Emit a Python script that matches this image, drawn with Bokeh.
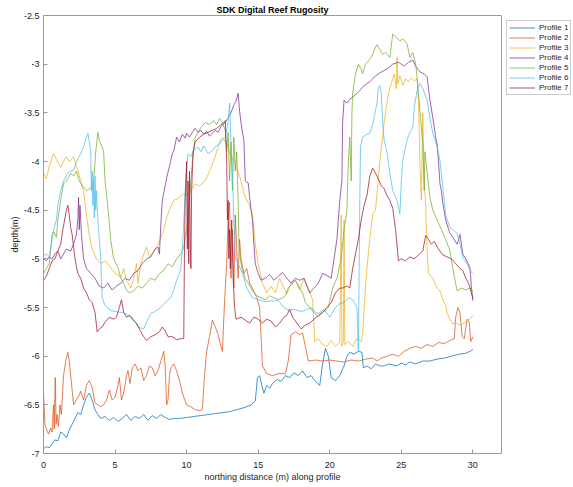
from bokeh.plotting import figure
from bokeh.models import Legend, LegendItem, FixedTicker, Range1d
from bokeh.embed import file_html
from bokeh.resources import INLINE

# ---------------- data ----------------
title_text = "SDK Digital Reef Rugosity"
x_label = "northing distance (m) along profile"
y_label = "depth(m)"
profile_names = ["Profile 1", "Profile 2", "Profile 3", "Profile 4", "Profile 5", "Profile 6", "Profile 7"]
x_ticks = [0, 5, 10, 15, 20, 25, 30]
y_ticks = [-7, -6.5, -6, -5.5, -5, -4.5, -4, -3.5, -3, -2.5]
y_tick_labels = ["-7", "-6.5", "-6", "-5.5", "-5", "-4.5", "-4", "-3.5", "-3", "-2.5"]

profile_1 = [(0.0,-6.95),(0.2,-6.93),(0.4,-6.94),(0.6,-6.9),(0.8,-6.86),(1.0,-6.87),(1.2,-6.78),(1.4,-6.8),
    (1.6,-6.84),(1.8,-6.76),(2.0,-6.7),(2.2,-6.64),(2.4,-6.58),(2.6,-6.6),(2.8,-6.5),(3.0,-6.42),(3.2,-6.38),
    (3.4,-6.45),(3.6,-6.55),(3.8,-6.6),(4.0,-6.64),(4.3,-6.62),(4.6,-6.66),(4.9,-6.63),(5.2,-6.67),(5.5,-6.64),
    (5.8,-6.6),(6.1,-6.66),(6.4,-6.62),(6.7,-6.64),(7.0,-6.6),(7.3,-6.66),(7.6,-6.61),(7.9,-6.64),(8.2,-6.6),
    (8.5,-6.63),(8.8,-6.65),(9.1,-6.64),(9.5,-6.64),(10.0,-6.63),(10.5,-6.62),(11.0,-6.61),(11.5,-6.6),(12.0,-6.59),
    (12.5,-6.58),(13.0,-6.57),(13.5,-6.55),(14.0,-6.53),(14.5,-6.5),(14.8,-6.46),(14.95,-6.22),(15.1,-6.2),
    (15.25,-6.3),(15.4,-6.38),(15.6,-6.3),(15.8,-6.33),(16.0,-6.28),(16.3,-6.24),(16.6,-6.26),(16.9,-6.2),
    (17.2,-6.22),(17.5,-6.17),(17.8,-6.2),(18.1,-6.15),(18.4,-6.22),(18.7,-6.2),(19.0,-6.26),(19.3,-6.3),
    (19.5,-6.08),(19.7,-5.92),(19.9,-6.0),(20.1,-6.22),(20.4,-6.25),(20.7,-6.2),(21.0,-6.1),(21.2,-6.0),
    (21.4,-5.96),(21.7,-5.98),(22.0,-5.95),(22.25,-5.96),(22.35,-6.12),(22.6,-6.1),(22.9,-6.13),(23.2,-6.08),
    (23.5,-6.1),(23.8,-6.1),(24.1,-6.08),(24.4,-6.09),(24.7,-6.1),(25.0,-6.07),(25.3,-6.09),(25.6,-6.06),
    (26.0,-6.08),(26.5,-6.05),(27.0,-6.05),(27.5,-6.03),(28.0,-6.02),(28.5,-6.0),(29.0,-5.98),(29.5,-5.97),
    (29.8,-5.95),(30.0,-5.93)]

profile_2 = [(0.0,-6.38),(0.1,-6.7),(0.2,-6.75),(0.35,-6.8),(0.5,-6.74),(0.6,-6.78),(0.7,-6.5),(0.75,-6.75),
    (0.82,-6.22),(0.88,-6.7),(0.95,-6.6),(1.05,-6.72),(1.15,-6.5),(1.25,-6.6),(1.4,-6.2),(1.55,-6.05),(1.7,-5.96),
    (1.8,-6.05),(1.9,-6.2),(2.0,-6.35),(2.1,-6.5),(2.3,-6.45),(2.5,-6.4),(2.6,-6.36),(2.8,-6.45),(3.0,-6.3),
    (3.2,-6.25),(3.4,-6.32),(3.6,-6.48),(3.8,-6.5),(4.0,-6.52),(4.2,-6.5),(4.4,-6.45),(4.6,-6.35),(4.8,-6.45),
    (5.0,-6.42),(5.2,-6.3),(5.3,-6.22),(5.45,-6.45),(5.6,-6.38),(5.8,-6.2),(5.9,-6.15),(6.05,-6.28),(6.2,-6.12),
    (6.4,-6.08),(6.6,-6.15),(6.8,-6.12),(7.0,-6.25),(7.2,-6.2),(7.4,-6.1),(7.6,-6.12),(7.8,-6.2),(8.0,-6.15),
    (8.2,-6.05),(8.4,-5.95),(8.5,-6.1),(8.6,-6.5),(8.7,-6.45),(8.8,-6.2),(8.9,-6.12),(9.1,-6.08),(9.3,-6.15),
    (9.5,-6.25),(9.7,-6.38),(10.0,-6.5),(10.3,-6.52),(10.6,-6.55),(10.9,-6.56),(11.1,-6.55),(11.25,-6.2),
    (11.4,-5.95),(11.6,-5.8),(11.8,-5.63),(12.0,-5.7),(12.2,-5.78),(12.4,-5.9),(12.5,-5.95),(12.6,-5.6),
    (12.7,-5.3),(12.8,-5.05),(12.9,-4.6),(13.0,-4.42),(13.1,-5.2),(13.2,-4.7),(13.3,-5.3),(13.4,-4.55),
    (13.5,-4.9),(13.6,-5.2),(13.7,-4.8),(13.8,-5.0),(14.0,-5.15),(14.2,-5.1),(14.4,-5.25),(14.6,-5.3),
    (14.9,-5.4),(15.1,-5.5),(15.3,-6.1),(15.6,-6.18),(16.0,-6.2),(16.4,-6.18),(16.9,-6.18),(17.1,-6.05),
    (17.3,-5.78),(17.6,-5.75),(17.9,-5.78),(18.1,-5.76),(18.3,-5.9),(18.5,-6.05),(19.0,-6.04),(19.5,-6.05),
    (20.0,-6.04),(20.5,-6.05),(21.0,-6.06),(21.5,-6.04),(22.0,-6.05),(22.5,-6.03),(23.0,-6.02),(23.3,-6.05),
    (23.6,-6.02),(24.0,-6.0),(24.4,-5.98),(24.8,-6.0),(25.2,-5.95),(25.6,-5.92),(26.0,-5.9),(26.4,-5.92),
    (26.8,-5.88),(27.2,-5.9),(27.6,-5.86),(28.0,-5.87),(28.4,-5.84),(28.7,-5.82),(28.8,-5.6),(28.95,-5.5),
    (29.1,-5.55),(29.25,-5.8),(29.4,-5.82),(29.6,-5.62),(29.75,-5.65),(29.85,-5.85),(30.0,-5.8)]

profile_3 = [(0.0,-4.12),(0.2,-4.18),(0.4,-4.05),(0.7,-3.92),(0.9,-3.98),(1.2,-4.06),(1.4,-4.0),(1.6,-3.95),
    (1.8,-4.0),(2.0,-3.97),(2.1,-3.95),(2.3,-4.05),(2.4,-4.09),(2.6,-4.2),(2.8,-4.3),(3.0,-4.55),(3.2,-4.75),
    (3.4,-4.9),(3.7,-5.0),(4.0,-5.05),(4.3,-5.02),(4.7,-5.09),(5.0,-5.15),(5.4,-5.19),(5.6,-5.1),(5.8,-5.22),
    (6.1,-5.3),(6.3,-5.2),(6.5,-5.05),(6.6,-5.25),(6.8,-5.05),(7.0,-4.95),(7.2,-4.88),(7.4,-4.98),(7.7,-4.92),
    (8.0,-4.85),(8.2,-4.78),(8.4,-4.7),(8.6,-4.58),(8.8,-4.5),(9.1,-4.4),(9.4,-4.38),(9.8,-4.33),(10.0,-4.35),
    (10.3,-4.3),(10.6,-4.23),(10.9,-4.25),(11.3,-4.2),(11.6,-4.1),(11.8,-4.03),(12.1,-3.9),(12.3,-3.8),
    (12.5,-3.75),(12.7,-3.8),(12.9,-3.85),(13.1,-3.95),(13.4,-4.02),(13.7,-4.15),(14.1,-4.37),(14.4,-4.45),
    (14.6,-4.54),(14.8,-4.85),(15.0,-5.05),(15.3,-5.25),(15.6,-5.35),(15.9,-5.28),(16.2,-5.35),(16.5,-5.2),
    (16.8,-5.3),(17.0,-5.36),(17.3,-5.25),(17.6,-5.22),(17.9,-5.32),(18.2,-5.2),(18.5,-5.3),(18.8,-5.42),
    (18.95,-5.85),(19.2,-5.82),(19.5,-5.88),(19.8,-5.9),(20.1,-5.84),(20.4,-5.9),(20.7,-5.86),(20.8,-4.55),
    (20.85,-5.9),(20.95,-5.85),(21.0,-4.6),(21.05,-5.88),(21.3,-5.85),(21.6,-5.9),(21.9,-5.82),(22.2,-5.85),
    (22.3,-5.77),(22.45,-5.4),(22.6,-5.09),(22.8,-4.8),(23.0,-4.54),(23.2,-4.5),(23.5,-4.0),(23.8,-3.6),
    (24.1,-3.3),(24.3,-3.2),(24.5,-3.1),(24.65,-3.25),(24.7,-2.93),(24.75,-3.2),(24.9,-3.12),(25.1,-3.22),
    (25.3,-3.15),(25.5,-3.18),(25.7,-3.14),(25.9,-3.17),(26.1,-3.15),(26.2,-3.37),(26.3,-4.0),(26.4,-4.4),
    (26.5,-3.5),(26.6,-4.2),(26.7,-4.45),(26.8,-4.9),(26.9,-5.15),(27.2,-5.2),(27.5,-5.3),(27.7,-5.33),
    (27.9,-5.42),(28.1,-5.48),(28.2,-5.56),(28.4,-5.62),(28.6,-5.67),(28.8,-5.66),(29.1,-5.68),(29.4,-5.66),
    (29.7,-5.63),(30.0,-5.58)]

profile_4 = [(0.0,-5.0),(0.2,-5.02),(0.4,-4.98),(0.6,-5.0),(0.8,-4.95),(1.0,-4.92),(1.2,-5.0),(1.4,-4.95),
    (1.6,-4.9),(1.9,-4.92),(2.1,-4.85),(2.3,-4.75),(2.4,-4.6),(2.45,-4.37),(2.5,-4.7),(2.55,-4.45),(2.65,-4.75),
    (2.8,-5.0),(3.0,-5.1),(3.3,-5.15),(3.6,-5.2),(3.9,-5.28),(4.2,-5.3),(4.5,-5.25),(4.8,-5.32),(5.1,-5.28),
    (5.4,-5.25),(5.7,-5.2),(6.0,-5.22),(6.3,-5.15),(6.6,-5.12),(6.9,-5.05),(7.2,-5.0),(7.5,-4.98),(7.8,-4.9),
    (8.0,-4.88),(8.1,-4.95),(8.2,-4.64),(8.3,-4.4),(8.5,-4.25),(8.6,-4.17),(8.8,-4.05),(9.0,-3.92),(9.1,-3.89),
    (9.3,-3.75),(9.5,-3.8),(9.7,-3.72),(9.9,-3.76),(10.0,-3.71),(10.2,-3.75),(10.4,-3.7),(10.6,-3.66),
    (10.8,-3.7),(11.0,-3.68),(11.2,-3.72),(11.4,-3.69),(11.6,-3.74),(11.8,-3.71),(12.0,-3.68),(12.2,-3.7),
    (12.4,-3.64),(12.7,-3.6),(12.9,-3.55),(13.1,-3.5),(13.3,-3.42),(13.45,-3.38),(13.6,-3.3),(13.7,-3.48),
    (13.8,-3.6),(13.9,-3.7),(14.0,-3.78),(14.05,-4.0),(14.1,-4.2),(14.3,-4.22),(14.5,-4.5),(14.6,-4.6),
    (14.7,-4.85),(14.8,-5.05),(15.0,-5.15),(15.2,-5.22),(15.5,-5.2),(15.8,-5.16),(16.1,-5.22),(16.4,-5.18),
    (16.7,-5.14),(17.0,-5.2),(17.3,-5.25),(17.6,-5.2),(17.9,-5.22),(18.2,-5.2),(18.4,-5.28),(18.6,-5.35),
    (18.9,-5.3),(19.2,-5.25),(19.5,-5.15),(19.8,-5.17),(20.1,-5.2),(20.3,-5.0),(20.5,-4.8),(20.7,-4.4),
    (20.85,-4.2),(20.9,-3.6),(21.0,-3.37),(21.2,-3.4),(21.4,-3.36),(21.6,-3.34),(21.9,-3.3),(22.1,-3.27),
    (22.4,-3.22),(22.8,-3.18),(23.2,-3.12),(23.6,-3.08),(24.0,-3.05),(24.4,-3.0),(24.8,-2.98),(25.2,-3.02),
    (25.5,-2.98),(25.8,-2.96),(26.0,-3.02),(26.3,-3.08),(26.6,-3.1),(26.8,-3.13),(27.0,-3.37),(27.2,-3.55),
    (27.4,-3.75),(27.5,-3.82),(27.6,-4.0),(27.7,-4.23),(27.8,-4.3),(27.9,-4.43),(28.1,-4.6),(28.4,-4.74),
    (28.6,-4.78),(28.9,-4.85),(29.1,-4.75),(29.3,-4.95),(29.5,-5.0),(29.8,-5.09),(29.9,-5.3),(30.0,-5.43)]

profile_5 = [(0.0,-5.15),(0.2,-5.1),(0.4,-5.05),(0.5,-4.9),(0.6,-4.75),(0.7,-4.72),(0.9,-4.78),(1.0,-4.6),
    (1.2,-4.4),(1.4,-4.23),(1.6,-4.2),(1.9,-4.12),(2.1,-4.15),(2.3,-4.1),(2.5,-4.2),(2.8,-4.27),(3.0,-4.3),
    (3.3,-4.27),(3.5,-4.2),(3.65,-3.9),(3.8,-3.7),(3.9,-3.78),(4.0,-3.82),(4.2,-3.89),(4.3,-4.2),(4.5,-4.47),
    (4.7,-4.81),(4.9,-5.0),(5.2,-5.09),(5.4,-5.2),(5.6,-5.25),(5.8,-5.32),(6.0,-5.35),(6.3,-5.33),(6.6,-5.28),
    (6.9,-5.3),(7.2,-5.25),(7.5,-5.2),(7.8,-5.22),(8.1,-5.15),(8.4,-5.12),(8.7,-5.05),(9.0,-5.08),(9.3,-5.0),
    (9.6,-4.95),(9.8,-4.88),(10.0,-4.7),(10.2,-4.4),(10.4,-4.0),(10.6,-3.75),(10.8,-3.7),(11.0,-3.65),
    (11.3,-3.6),(11.6,-3.62),(11.9,-3.58),(12.1,-3.62),(12.3,-3.56),(12.5,-3.6),(12.7,-3.68),(12.8,-3.9),
    (12.9,-3.7),(13.0,-4.2),(13.1,-3.8),(13.2,-4.3),(13.3,-3.75),(13.4,-4.1),(13.5,-3.9),(13.6,-4.4),
    (13.65,-4.85),(13.8,-5.05),(13.9,-5.12),(14.1,-5.2),(14.3,-5.25),(14.6,-5.33),(14.9,-5.38),(15.2,-5.4),
    (15.5,-5.42),(15.8,-5.38),(16.1,-5.4),(16.4,-5.42),(16.7,-5.4),(16.9,-5.38),(17.1,-5.3),(17.4,-5.25),
    (17.6,-5.22),(17.9,-5.3),(18.1,-5.35),(18.3,-5.45),(18.6,-5.5),(18.9,-5.55),(19.2,-5.6),(19.5,-5.55),
    (19.9,-5.5),(20.2,-5.3),(20.5,-5.2),(20.8,-5.0),(21.0,-4.7),(21.2,-4.5),(21.3,-4.0),(21.4,-3.75),
    (21.5,-4.2),(21.55,-3.5),(21.6,-3.3),(21.8,-3.1),(22.0,-3.0),(22.2,-3.05),(22.3,-3.1),(22.5,-3.0),
    (22.8,-2.95),(23.0,-2.9),(23.2,-2.82),(23.3,-2.8),(23.5,-2.85),(23.7,-2.9),(23.9,-2.88),(24.2,-2.93),
    (24.4,-2.69),(24.6,-2.72),(24.9,-2.76),(25.1,-2.74),(25.4,-2.79),(25.6,-2.93),(25.8,-2.88),(26.0,-3.0),
    (26.1,-3.13),(26.3,-3.48),(26.5,-3.82),(26.6,-4.3),(26.65,-3.9),(26.8,-4.1),(27.0,-4.37),(27.2,-4.5),
    (27.5,-4.6),(27.8,-4.7),(28.1,-4.8),(28.4,-4.92),(28.6,-5.1),(28.9,-5.33),(29.2,-5.3),(29.5,-5.32),
    (29.8,-5.3),(30.0,-5.33)]

profile_6 = [(0.0,-4.97),(0.2,-4.95),(0.4,-4.98),(0.55,-4.85),(0.7,-4.71),(0.9,-4.6),(1.0,-4.45),(1.2,-4.3),
    (1.4,-4.2),(1.7,-4.12),(1.9,-4.1),(2.1,-4.09),(2.3,-4.0),(2.6,-3.92),(2.8,-3.85),(3.0,-3.75),(3.1,-3.71),
    (3.2,-3.8),(3.3,-3.89),(3.35,-4.3),(3.4,-4.1),(3.45,-4.45),(3.5,-4.2),(3.55,-4.58),(3.6,-4.15),(3.65,-4.5),
    (3.7,-4.3),(3.75,-4.45),(3.8,-4.6),(3.9,-4.8),(4.0,-4.99),(4.05,-5.25),(4.1,-5.4),(4.3,-5.48),(4.7,-5.53),
    (5.0,-5.54),(5.3,-5.55),(5.6,-5.55),(5.9,-5.58),(6.2,-5.6),(6.4,-5.65),(6.6,-5.7),(6.8,-5.71),(7.0,-5.72),
    (7.2,-5.65),(7.5,-5.56),(7.8,-5.54),(8.2,-5.5),(8.5,-5.45),(8.9,-5.4),(9.1,-5.32),(9.3,-5.22),(9.5,-5.15),
    (9.6,-5.1),(9.7,-4.9),(9.8,-4.64),(9.9,-4.3),(10.0,-4.06),(10.1,-3.92),(10.3,-3.95),(10.5,-3.88),
    (10.8,-3.85),(11.0,-3.9),(11.2,-3.84),(11.5,-3.92),(11.8,-3.89),(12.0,-3.85),(12.3,-3.82),(12.5,-3.78),
    (12.7,-3.75),(12.9,-3.6),(13.0,-3.4),(13.1,-3.8),(13.2,-4.1),(13.3,-4.6),(13.4,-4.99),(13.6,-5.05),
    (13.9,-5.15),(14.2,-5.3),(14.6,-5.4),(15.0,-5.42),(15.5,-5.44),(16.0,-5.43),(16.4,-5.43),(16.8,-5.5),
    (17.1,-5.53),(17.5,-5.52),(18.0,-5.54),(18.3,-5.53),(18.7,-5.5),(19.0,-5.55),(19.2,-5.56),(19.6,-5.52),
    (20.0,-5.6),(20.4,-5.5),(20.7,-5.46),(21.0,-5.45),(21.3,-5.4),(21.6,-5.42),(21.9,-5.5),(22.0,-5.95),
    (22.1,-4.4),(22.15,-3.85),(22.3,-3.75),(22.6,-3.72),(22.8,-3.71),(23.0,-3.62),(23.3,-3.4),(23.4,-3.24),
    (23.5,-3.22),(23.6,-3.3),(23.7,-3.6),(23.8,-3.78),(24.0,-3.9),(24.2,-4.12),(24.4,-4.3),(24.7,-4.4),
    (24.9,-4.54),(25.0,-4.2),(25.1,-3.99),(25.3,-3.85),(25.4,-3.78),(25.6,-3.7),(25.8,-3.65),(25.9,-3.45),
    (26.1,-3.27),(26.3,-3.2),(26.5,-3.25),(26.8,-3.37),(27.0,-3.55),(27.2,-3.71),(27.5,-3.85),(27.7,-3.99),
    (27.9,-4.27),(28.1,-4.55),(28.4,-4.68),(28.6,-4.7),(28.9,-4.74),(29.1,-4.85),(29.3,-4.99),(29.6,-5.05),
    (29.8,-5.12),(30.0,-5.15)]

profile_7 = [(0.0,-5.22),(0.2,-5.18),(0.4,-5.1),(0.6,-5.02),(0.8,-5.0),(1.0,-4.92),(1.2,-4.85),(1.35,-4.7),
    (1.5,-4.58),(1.6,-4.5),(1.7,-4.45),(1.8,-4.55),(1.9,-4.68),(2.0,-4.75),(2.2,-5.0),(2.4,-5.15),(2.6,-5.2),
    (2.8,-5.3),(3.0,-5.35),(3.2,-5.42),(3.4,-5.45),(3.6,-5.55),(3.75,-5.75),(3.9,-5.72),(4.1,-5.7),(4.3,-5.65),
    (4.6,-5.6),(4.9,-5.62),(5.1,-5.6),(5.3,-5.5),(5.45,-5.42),(5.6,-5.55),(5.8,-5.6),(6.0,-5.58),(6.2,-5.62),
    (6.5,-5.66),(6.8,-5.75),(7.0,-5.8),(7.2,-5.84),(7.5,-5.8),(7.8,-5.78),(8.1,-5.75),(8.3,-5.7),(8.5,-5.74),
    (8.7,-5.8),(9.0,-5.8),(9.3,-5.83),(9.6,-5.82),(9.8,-5.82),(9.85,-4.9),(9.9,-4.4),(10.0,-4.0),(10.05,-4.9),
    (10.1,-4.2),(10.15,-5.05),(10.2,-4.1),(10.25,-4.8),(10.3,-5.1),(10.35,-4.3),(10.45,-3.9),(10.6,-3.8),
    (10.9,-3.75),(11.2,-3.72),(11.5,-3.7),(11.8,-3.68),(12.1,-3.66),(12.4,-3.62),(12.6,-3.6),(12.7,-3.58),
    (12.8,-4.0),(12.85,-4.6),(12.9,-4.4),(12.95,-5.0),(13.0,-4.7),(13.05,-5.1),(13.15,-4.6),(13.25,-5.2),
    (13.35,-5.5),(13.45,-5.62),(13.8,-5.6),(14.1,-5.63),(14.4,-5.66),(14.7,-5.6),(15.0,-5.62),(15.3,-5.66),
    (15.6,-5.62),(15.9,-5.64),(16.2,-5.7),(16.5,-5.66),(16.8,-5.6),(17.0,-5.58),(17.2,-5.52),(17.4,-5.6),
    (17.7,-5.66),(18.0,-5.72),(18.3,-5.68),(18.6,-5.66),(18.9,-5.62),(19.2,-5.58),(19.5,-5.55),(19.8,-5.5),
    (20.1,-5.45),(20.4,-5.35),(20.7,-5.3),(20.9,-5.3),(21.2,-5.28),(21.4,-5.3),(21.6,-5.1),(21.8,-4.95),
    (22.0,-4.8),(22.2,-4.6),(22.4,-4.45),(22.6,-4.35),(22.8,-4.15),(23.0,-4.07),(23.2,-4.12),(23.4,-4.18),
    (23.6,-4.25),(23.8,-4.28),(24.0,-4.35),(24.2,-4.4),(24.4,-4.48),(24.6,-4.7),(24.8,-5.02),(25.0,-5.0),
    (25.3,-5.02),(25.6,-4.98),(25.9,-5.0),(26.2,-4.96),(26.5,-4.92),(26.7,-4.76),(26.9,-4.8),(27.1,-4.85),
    (27.3,-4.82),(27.6,-4.9),(27.9,-4.96),(28.2,-4.98),(28.5,-5.0),(28.8,-5.05),(29.1,-5.1),(29.3,-5.12),
    (29.5,-5.2),(29.7,-5.25),(29.9,-5.35),(30.0,-5.41)]

profiles = [profile_1, profile_2, profile_3, profile_4, profile_5, profile_6, profile_7]

# ---------------- style ----------------
line_colors = ["#0072BD", "#D95319", "#EDB120", "#7E2F8E", "#77AC30", "#4DBEEE", "#A2142F"]
FONT = "Liberation Sans"
TEXT_COLOR = "#262626"
AXIS_COLOR = "#9a9a9a"

p = figure(frame_width=458, frame_height=438, x_range=Range1d(0, 32), y_range=Range1d(-7, -2.5),
           output_backend="svg", toolbar_location=None, title=title_text,
           min_border_left=43, min_border_top=15, min_border_bottom=33, min_border_right=0)
p.background_fill_color = "white"
p.border_fill_color = "white"
p.outline_line_color = AXIS_COLOR
p.xgrid.visible = False
p.ygrid.visible = False

p.title.align = "center"
p.title.text_font = FONT
p.title.text_font_size = "9px"
p.title.text_font_style = "bold"
p.title.text_color = "black"
p.title.standoff = 1
p.title.offset = 0

items = []
for name, data, col in zip(profile_names, profiles, line_colors):
    xs = [d[0] for d in data]
    ys = [d[1] for d in data]
    r = p.line(xs, ys, line_color=col, line_width=0.75)
    items.append(LegendItem(label=name, renderers=[r]))

def style_axis(ax):
    ax.axis_line_color = AXIS_COLOR
    ax.axis_line_width = 1
    ax.major_tick_line_color = AXIS_COLOR
    ax.major_tick_in = 4
    ax.major_tick_out = 0
    ax.minor_tick_line_color = None
    ax.major_label_text_font = FONT
    ax.major_label_text_color = TEXT_COLOR
    ax.major_label_text_font_size = "9px"
    ax.axis_label_text_font = FONT
    ax.axis_label_text_color = TEXT_COLOR
    ax.axis_label_text_font_size = "9px"
    ax.axis_label_text_font_style = "normal"

xax = p.xaxis[0]
xax.ticker = FixedTicker(ticks=x_ticks)
xax.axis_label = x_label
xax.major_label_overrides = {t: str(t) for t in x_ticks}
style_axis(xax)
xax.major_label_standoff = 8
xax.axis_label_standoff = 1

yax = p.yaxis[0]
yax.ticker = FixedTicker(ticks=y_ticks)
yax.axis_label = y_label
yax.major_label_overrides = {t: s for t, s in zip(y_ticks, y_tick_labels)}
style_axis(yax)
yax.major_label_standoff = 4
yax.axis_label_standoff = 1

legend = Legend(items=items, location="top_left", orientation="vertical")
legend.label_text_font = FONT
legend.label_text_font_size = "8px"
legend.label_text_color = TEXT_COLOR
legend.glyph_width = 26
legend.glyph_height = 9
legend.label_height = 9
legend.label_standoff = 4
legend.spacing = 1
legend.padding = 2
legend.margin = 5
legend.border_line_color = AXIS_COLOR
legend.border_line_width = 1
legend.background_fill_color = "white"
p.add_layout(legend, "right")

open("out.html", "w").write(file_html(p, INLINE))
